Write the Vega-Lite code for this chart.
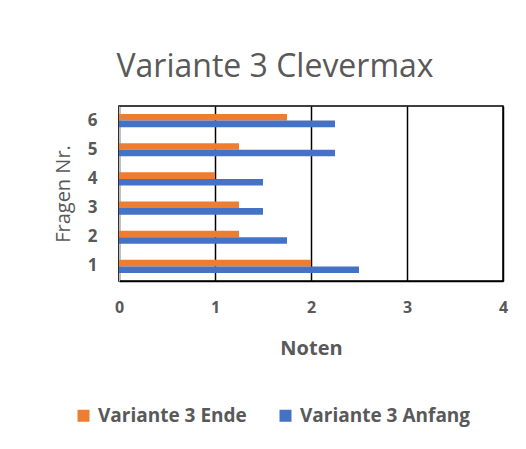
{
  "$schema": "https://vega.github.io/schema/vega-lite/v6.json",
  "autosize": {"type": "none"},
  "width": 384,
  "height": 175,
  "padding": {"left": 119, "top": 106, "right": 23, "bottom": 168},
  "background": "white",
  "title": {
    "text": "Variante 3 Clevermax",
    "font": "Open Sans",
    "fontSize": 32,
    "fontWeight": "normal",
    "color": "#595959",
    "anchor": "middle",
    "dx": -36,
    "offset": 22
  },
  "data": {
    "values": [
      {"Frage": "1", "Serie": "Variante  3 Ende", "Note": 2},
      {"Frage": "1", "Serie": "Variante  3 Anfang", "Note": 2.5},
      {"Frage": "2", "Serie": "Variante  3 Ende", "Note": 1.25},
      {"Frage": "2", "Serie": "Variante  3 Anfang", "Note": 1.75},
      {"Frage": "3", "Serie": "Variante  3 Ende", "Note": 1.25},
      {"Frage": "3", "Serie": "Variante  3 Anfang", "Note": 1.5},
      {"Frage": "4", "Serie": "Variante  3 Ende", "Note": 1},
      {"Frage": "4", "Serie": "Variante  3 Anfang", "Note": 1.5},
      {"Frage": "5", "Serie": "Variante  3 Ende", "Note": 1.25},
      {"Frage": "5", "Serie": "Variante  3 Anfang", "Note": 2.25},
      {"Frage": "6", "Serie": "Variante  3 Ende", "Note": 1.75},
      {"Frage": "6", "Serie": "Variante  3 Anfang", "Note": 2.25}
    ]
  },
  "mark": {"type": "bar"},
  "encoding": {
    "y": {
      "field": "Frage",
      "type": "ordinal",
      "sort": ["6", "5", "4", "3", "2", "1"],
      "scale": {"paddingInner": 0.55, "paddingOuter": 0.275},
      "axis": {
        "title": "Fragen Nr.",
        "titleFont": "Open Sans",
        "titleFontSize": 20,
        "titleFontWeight": "normal",
        "titleColor": "#595959",
        "titlePadding": 14,
        "labelFont": "Open Sans",
        "labelFontSize": 17,
        "labelFontWeight": "bold",
        "labelColor": "#595959",
        "labelPadding": 22,
        "ticks": false,
        "domainColor": "#bfbfbf",
        "domainWidth": 1
      }
    },
    "yOffset": {
      "field": "Serie",
      "type": "nominal",
      "sort": ["Variante  3 Ende", "Variante  3 Anfang"]
    },
    "x": {
      "field": "Note",
      "type": "quantitative",
      "scale": {"domain": [0, 4], "nice": false},
      "axis": {
        "title": "Noten",
        "titleFont": "Open Sans",
        "titleFontSize": 20,
        "titleFontWeight": "bold",
        "titleColor": "#595959",
        "titlePadding": 23,
        "labelFont": "Open Sans",
        "labelFontSize": 16,
        "labelFontWeight": "bold",
        "labelColor": "#595959",
        "labelPadding": 18,
        "labelOverlap": false,
        "labelFlush": false,
        "values": [0, 1, 2, 3, 4],
        "ticks": false,
        "grid": true,
        "gridColor": "black",
        "gridWidth": 1.5,
        "domainColor": "black",
        "domainWidth": 1.5
      }
    },
    "color": {
      "field": "Serie",
      "type": "nominal",
      "scale": {
        "domain": ["Variante  3 Ende", "Variante  3 Anfang"],
        "range": ["#ED7D31", "#4472C4"]
      },
      "legend": {
        "title": null,
        "orient": "none",
        "direction": "horizontal",
        "legendX": -45,
        "legendY": 300,
        "symbolType": "square",
        "symbolSize": 144,
        "symbolStrokeWidth": 0,
        "labelFont": "Open Sans",
        "labelFontSize": 19,
        "labelFontWeight": "bold",
        "labelColor": "#595959",
        "labelLimit": 400,
        "columnPadding": 24,
        "labelOffset": 5
      }
    }
  },
  "config": {
    "view": {"stroke": "black", "strokeWidth": 1.5}
  }
}
